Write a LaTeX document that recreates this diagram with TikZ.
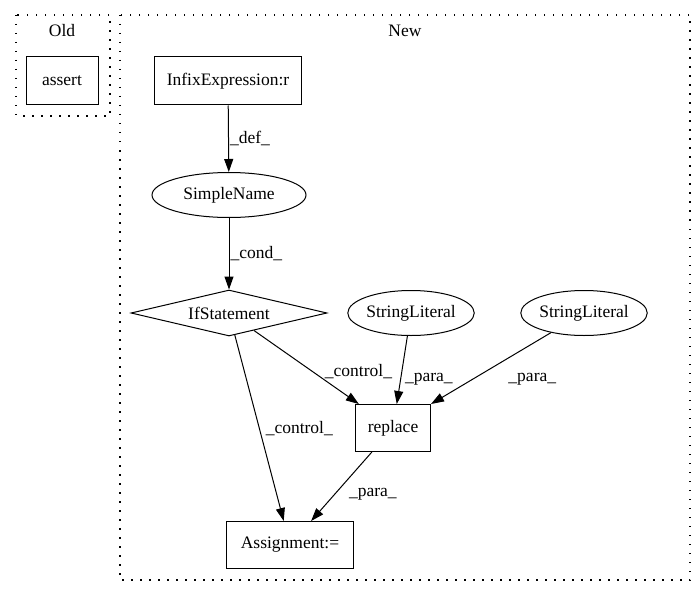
\documentclass[tikz,border=0pt]{standalone}
\usepackage{fontspec}
\setmainfont{Liberation Serif}
\usepackage{tikz}
\usetikzlibrary{arrows.meta}
\usetikzlibrary{shapes.geometric}

\begin{document}
\begin{tikzpicture}[x=1pt,y=-1pt,>={Triangle[length=13pt,width=9pt]},line width=1pt,
                        font=\fontsize{17.5pt}{20pt}\selectfont,
                        box node/.style={rectangle,draw,minimum height=48pt,inner sep=0pt},
                        oval node/.style={ellipse,draw,minimum width=154pt,minimum height=45pt,inner sep=0pt},
                        cond node/.style={diamond,draw,aspect=4.2,minimum width=196pt,minimum height=46pt,inner sep=0pt},
                        cluster/.style={draw,line width=1.3pt,dash pattern=on 1.5pt off 7.5pt},
                        lbl/.style={anchor=west,inner sep=1pt}]
      \useasboundingbox (0,0) rectangle (700,596);

      % clusters
      \draw[cluster] (16,15) rectangle (110,116);
      \draw[cluster] (120,15) rectangle (690,580);
      \node (old) at (62,31) {Old};
      \node (new) at (405,31) {New};

      \node[box node,minimum width=72pt] (0) at (62,81) {assert};
      \node[box node,minimum width=147pt] (1) at (228,81) {InfixExpression:r};
      \node[oval node] (2) at (229,195) {SimpleName};
      \node[cond node] (3) at (229,313) {IfStatement};
      \node[oval node,minimum width=122pt] (4) at (411,313) {StringLiteral};
      \node[oval node,minimum width=122pt] (5) at (584,313) {StringLiteral};
      \node[box node,minimum width=75pt,minimum height=47pt] (6) at (393,428) {replace};
      \node[box node,minimum width=127pt,minimum height=47pt] (7) at (290,545) {Assignment:=};

      \path[->]
        (1) edge node[lbl] {\_def\_} (2)
        (2) edge node[lbl] {\_cond\_} (3)
        (3) edge node[lbl,pos=0.5,xshift=17pt,yshift=-4pt] {\_control\_} (6)
            edge node[lbl,pos=0.5,xshift=5pt] {\_control\_} (7)
        (4) edge node[lbl,pos=0.55,xshift=2pt,yshift=-6pt] {\_para\_} (6)
        (5) edge node[lbl,pos=0.55,xshift=22pt,yshift=-7pt] {\_para\_} (6.north east)
        (6) edge node[lbl,pos=0.5,xshift=6pt,yshift=-8pt] {\_para\_} (7);
    \end{tikzpicture}
\end{document}
